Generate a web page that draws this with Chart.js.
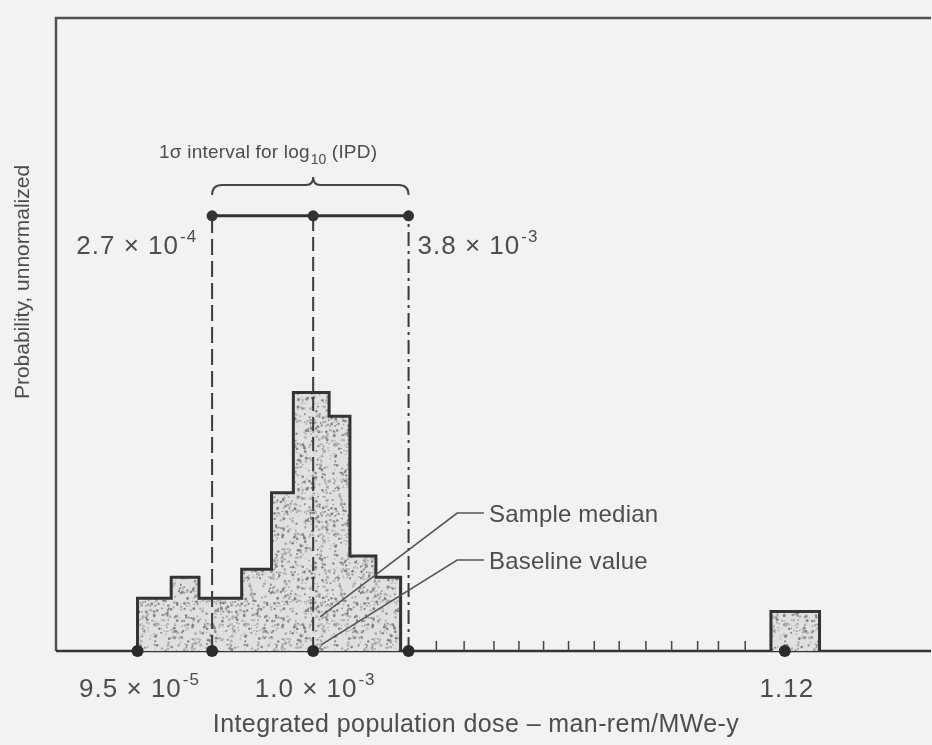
<!DOCTYPE html>
<html lang="en">
<head>
<meta charset="UTF-8" />
<title>Integrated population dose</title>
<script src="https://cdn.jsdelivr.net/npm/chart.js"></script>
<style>
  html, body { margin: 0; padding: 0; background: #f2f2f2; }
  canvas { display: block; }
</style>
</head>
<body>
<canvas id="doseChart" width="932" height="745"></canvas>
<script>
// Positions along the dose axis are in axis-tick units, 9.5e-5 sits at 0.
const X_MIN = -3.17;
const X_MAX = 30.66;
const Y_MAX = 24;

// histogram of sampled IPD values (bin edges + unnormalized heights)
const binEdges = [0, 1.31, 2.39, 4.05, 5.21, 6.06, 7.45, 8.26, 9.27, 10.23];
const binHeights = [2.0, 2.8, 2.0, 3.1, 6.0, 9.8, 8.9, 3.6, 2.8];
const outlierEdges = [24.63, 26.52];
const outlierHeights = [1.5];

// dots on the axis, the minor ticks and the labelled values
const axisMarkers = [0, 2.9, 6.83, 10.54, 25.17];
const axisTicks = [1.04, 1.89, 3.94, 4.79, 5.87, 7.88, 8.57, 9.85,
  11.62, 12.7, 13.86, 14.83, 15.79, 16.76, 17.76, 18.73, 19.77, 20.77, 21.78, 22.59, 23.63];
const tickLabelPos = [0, 6.83, 25.17];
const tickLabels = ['9.5 × 10^-5', '1.0 × 10^-3', '1.12'];

// 1-sigma interval for log10(IPD): lower, median, upper
const intervalPos = [2.9, 6.83, 10.54];
const intervalLabels = ['2.7 × 10^-4', '3.8 × 10^-3'];
const intervalLevel = 16.5;
const bracketLevel = 17.67;

// leader lines for the two callouts
const medianLeader = [{ x: 13.47, y: 5.23 }, { x: 12.43, y: 5.23 }, { x: 7.10, y: 1.29 }];
const baselineLeader = [{ x: 13.47, y: 3.45 }, { x: 12.43, y: 3.45 }, { x: 7.14, y: 0.23 }];

const INK = '#333';
const TEXT = '#4d4d4d';
const FONT = '"Liberation Sans", Arial, sans-serif';

function stepPoints(edges, heights) {
  const pts = [{ x: edges[0], y: 0 }];
  heights.forEach((h, i) => pts.push({ x: edges[i], y: h }));
  pts.push({ x: edges[edges.length - 1], y: 0 });
  return pts;
}

// dotted grey fill like a printed screen
function stipple(ctx) {
  const c = document.createElement('canvas');
  c.width = c.height = 90;
  const g = c.getContext('2d');
  g.fillStyle = '#e0e0e0';
  g.fillRect(0, 0, 90, 90);
  let s = 12345;
  const rnd = () => { s = (s * 16807) % 2147483647; return s / 2147483647; };
  for (let i = 0; i < 560; i++) {
    g.fillStyle = rnd() < 0.45 ? '#858585' : '#b0b0b0';
    g.beginPath();
    g.arc(rnd() * 90, rnd() * 90, 0.6 + rnd() * 0.9, 0, Math.PI * 2);
    g.fill();
  }
  return ctx.createPattern(c, 'repeat');
}

function setFont(ctx, size, spacing) {
  ctx.font = `${size}px ${FONT}`;
  if ('letterSpacing' in ctx) ctx.letterSpacing = `${spacing || 0}px`;
}

// "a × 10^b" with a raised exponent
function drawSci(ctx, str, x, y, align, size) {
  const [base, exp] = str.split('^');
  const es = Math.round(size * 0.66);
  setFont(ctx, size, 1);
  const wb = ctx.measureText(base).width;
  let we = 0;
  if (exp) {
    setFont(ctx, es, 1);
    we = ctx.measureText(exp).width + 1;
  }
  const total = wb + we;
  const x0 = align === 'center' ? x - total / 2 : align === 'right' ? x - total : x;
  ctx.textAlign = 'left';
  ctx.textBaseline = 'alphabetic';
  setFont(ctx, size, 1);
  ctx.fillText(base, x0, y);
  if (exp) {
    setFont(ctx, es, 1);
    ctx.fillText(exp, x0 + wb + 1, y - size * 0.45);
  }
}

const decorations = {
  id: 'decorations',
  beforeDatasetsDraw(chart) {
    const { ctx, chartArea: a, scales: { x } } = chart;
    ctx.save();
    ctx.strokeStyle = '#505050';
    ctx.lineWidth = 2.5;
    ctx.beginPath();
    ctx.moveTo(a.right + 5, a.top);
    ctx.lineTo(a.left, a.top);
    ctx.lineTo(a.left, a.bottom);
    ctx.stroke();
    ctx.strokeStyle = INK;
    ctx.beginPath();
    ctx.moveTo(a.left, a.bottom);
    ctx.lineTo(a.right + 5, a.bottom);
    ctx.stroke();
    ctx.lineWidth = 1.5;
    ctx.strokeStyle = '#444';
    axisTicks.forEach(t => {
      const px = x.getPixelForValue(t);
      ctx.beginPath();
      ctx.moveTo(px, a.bottom);
      ctx.lineTo(px, a.bottom - 10);
      ctx.stroke();
    });
    ctx.restore();
  },
  afterDatasetsDraw(chart) {
    const { ctx, chartArea: a, scales: { x, y } } = chart;
    ctx.save();

    // brace over the interval
    const bl = x.getPixelForValue(intervalPos[0]);
    const bm = x.getPixelForValue(intervalPos[1]);
    const br = x.getPixelForValue(intervalPos[2]);
    const by = y.getPixelForValue(bracketLevel);
    ctx.strokeStyle = '#444';
    ctx.lineWidth = 2;
    ctx.beginPath();
    ctx.moveTo(bl, by + 10);
    ctx.quadraticCurveTo(bl, by, bl + 10, by);
    ctx.lineTo(bm - 7, by);
    ctx.quadraticCurveTo(bm, by, bm, by - 8);
    ctx.quadraticCurveTo(bm, by, bm + 7, by);
    ctx.lineTo(br - 10, by);
    ctx.quadraticCurveTo(br, by, br, by + 10);
    ctx.stroke();

    ctx.fillStyle = TEXT;

    // interval caption: 1σ interval for log10 (IPD)
    let tx = bl - 53;
    const ty = by - 27;
    ctx.textAlign = 'left';
    ctx.textBaseline = 'alphabetic';
    setFont(ctx, 19, 0.2);
    ctx.fillText('1σ interval for log', tx, ty);
    tx += ctx.measureText('1σ interval for log').width;
    setFont(ctx, 14, 0);
    ctx.fillText('10', tx + 1, ty + 6);
    tx += ctx.measureText('10').width + 1;
    setFont(ctx, 19, 0.2);
    ctx.fillText(' (IPD)', tx, ty);

    // interval end values
    const iy = y.getPixelForValue(intervalLevel) + 38;
    drawSci(ctx, intervalLabels[0], bl - 15, iy, 'right', 26);
    drawSci(ctx, intervalLabels[1], br + 9, iy, 'left', 26);

    // axis value labels
    tickLabelPos.forEach((p, i) => {
      drawSci(ctx, tickLabels[i], x.getPixelForValue(p) + 2, a.bottom + 46, 'center', 26);
    });

    // callouts
    setFont(ctx, 24, 0.2);
    ctx.textAlign = 'left';
    ctx.fillText('Sample median', x.getPixelForValue(medianLeader[0].x) + 5, y.getPixelForValue(medianLeader[0].y) + 9);
    ctx.fillText('Baseline value', x.getPixelForValue(baselineLeader[0].x) + 5, y.getPixelForValue(baselineLeader[0].y) + 9);

    // axis titles
    setFont(ctx, 25, 0.4);
    ctx.textAlign = 'center';
    ctx.fillText('Integrated population dose \u2013 man-rem/MWe-y', 476, a.bottom + 81);
    ctx.translate(23, 282);
    ctx.rotate(-Math.PI / 2);
    setFont(ctx, 21, 0);
    ctx.textBaseline = 'middle';
    ctx.fillText('Probability, unnormalized', 0, 0);
    ctx.restore();
  }
};

const canvas = document.getElementById('doseChart');
const ctx = canvas.getContext('2d');
const fillPattern = stipple(ctx);

const histStyle = {
  showLine: true,
  stepped: true,
  borderColor: INK,
  borderWidth: 3,
  borderJoinStyle: 'miter',
  backgroundColor: fillPattern,
  fill: 'origin',
  pointRadius: 0,
  clip: false,
  order: 5
};

const dashStyles = [[16, 6], [14, 6], [14, 5, 3, 5]];

const datasets = [
  { ...histStyle, data: stepPoints(binEdges, binHeights) },
  { ...histStyle, data: stepPoints(outlierEdges, outlierHeights) },
  ...intervalPos.map((p, i) => ({
    data: [{ x: p, y: 0 }, { x: p, y: intervalLevel }],
    showLine: true,
    borderColor: '#3a3a3a',
    borderWidth: 2,
    borderDash: dashStyles[i],
    pointRadius: 0,
    clip: false,
    order: 3
  })),
  ...[medianLeader, baselineLeader].map(d => ({
    data: d,
    showLine: true,
    borderColor: '#555',
    borderWidth: 1.6,
    pointRadius: 0,
    clip: false,
    order: 2
  })),
  {
    data: intervalPos.map(p => ({ x: p, y: intervalLevel })),
    showLine: true,
    borderColor: INK,
    borderWidth: 3,
    pointRadius: 5.5,
    pointBackgroundColor: INK,
    pointBorderWidth: 0,
    clip: false,
    order: 1
  },
  {
    data: axisMarkers.map(p => ({ x: p, y: 0 })),
    showLine: false,
    pointRadius: 6,
    pointBackgroundColor: '#2a2a2a',
    pointBorderWidth: 0,
    clip: false,
    order: 0
  }
];

new Chart(ctx, {
  type: 'scatter',
  data: { datasets },
  options: {
    responsive: false,
    animation: false,
    events: [],
    layout: { padding: { left: 56, top: 18, right: 0, bottom: 94 } },
    plugins: { legend: { display: false }, tooltip: { enabled: false } },
    scales: {
      x: { type: 'linear', min: X_MIN, max: X_MAX, display: false },
      y: { min: 0, max: Y_MAX, display: false }
    }
  },
  plugins: [decorations]
});
</script>
</body>
</html>
